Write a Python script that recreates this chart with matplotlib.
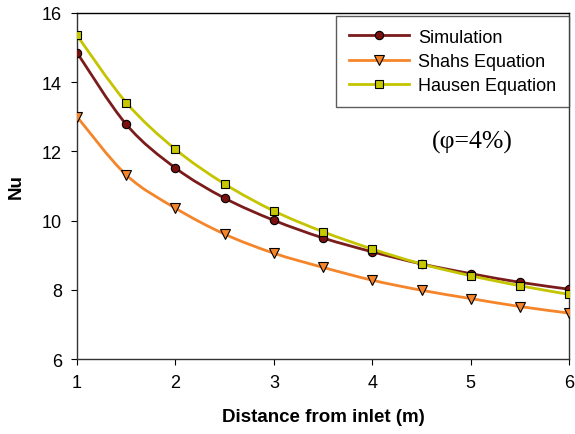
import numpy as np
import matplotlib
matplotlib.use("Agg")
import matplotlib.pyplot as plt
from matplotlib.path import Path
from matplotlib.patches import PathPatch

plt.rcParams['font.family'] = ['Liberation Sans', 'DejaVu Sans']

# data
distance = [1, 1.5, 2, 2.5, 3, 3.5, 4, 4.5, 5, 5.5, 6]
simulation = [14.85, 12.78, 11.52, 10.65, 10.01, 9.5, 9.1, 8.75, 8.47, 8.22, 8.02]
shahs = [13.0, 11.32, 10.36, 9.61, 9.06, 8.65, 8.28, 7.99, 7.75, 7.52, 7.33]
hausen = [15.35, 13.41, 12.06, 11.06, 10.28, 9.68, 9.18, 8.75, 8.41, 8.12, 7.87]


# Excel-like smoothed line: bezier through the points
def smooth_path(x, y, t=1/6.):
    x = np.asarray(x, float)
    y = np.asarray(y, float)
    n = len(x)
    verts = [(x[0], y[0])]
    codes = [Path.MOVETO]
    for i in range(n-1):
        x0, y0 = (x[i-1], y[i-1]) if i > 0 else (x[i], y[i])
        x3, y3 = (x[i+2], y[i+2]) if i+2 < n else (x[i+1], y[i+1])
        c1 = (x[i] + (x[i+1]-x0)*t, y[i] + (y[i+1]-y0)*t)
        c2 = (x[i+1] - (x3-x[i])*t, y[i+1] - (y3-y[i])*t)
        verts += [c1, c2, (x[i+1], y[i+1])]
        codes += [Path.CURVE4]*3
    return Path(verts, codes)


fig = plt.figure(figsize=(5.75, 4.35), dpi=100)
ax = fig.add_axes([0.134, 0.172, 0.856, 0.796])

series = [
    (simulation, 'Simulation', '#7a1c1c', '#7a1010', 'o', 6),
    (shahs, 'Shahs Equation', '#f5852a', '#f5852a', 'v', 6.5),
    (hausen, 'Hausen Equation', '#c4c400', '#c8c800', 's', 5.8),
]

for vals, name, lc, fc, mk, ms in series:
    ax.add_patch(PathPatch(smooth_path(distance, vals), fill=False,
                           edgecolor=lc, lw=2, zorder=2))
    ax.plot(distance, vals, linestyle='none', marker=mk, ms=ms,
            mfc=fc, mec='black', mew=0.8, zorder=3)
    ax.plot([], [], color=lc, lw=2, marker=mk, ms=ms, mfc=fc,
            mec='black', mew=0.8, label=name)

ax.set_xlim(1, 6)
ax.set_ylim(6, 16)
ax.set_xticks(range(1, 7))
ax.set_yticks(range(6, 17, 2))
ax.tick_params(direction='out', length=4, labelsize=13, pad=7)
for s in ax.spines.values():
    s.set_color('#333333')
    s.set_linewidth(1)
ax.spines['top'].set_color('black')

ax.set_xlabel('Distance from inlet (m)', fontsize=13.5, fontweight='bold', labelpad=12)
ax.set_ylabel('Nu', fontsize=13.5, fontweight='bold', labelpad=12)

leg = ax.legend(loc='upper right', bbox_to_anchor=(1.0, 0.991), borderaxespad=0,
                fontsize=13, frameon=True, fancybox=False, numpoints=1,
                handlelength=3.3, handletextpad=0.55, borderpad=0.7, labelspacing=0.4)
leg.get_frame().set_edgecolor('#333333')
leg.get_frame().set_linewidth(1)

ax.text(5.02, 12.3, '(\u03c6=4%)', fontsize=18.5, family=['Liberation Serif', 'DejaVu Serif'],
        ha='center', va='center')

fig.savefig('out.png', dpi=100)
